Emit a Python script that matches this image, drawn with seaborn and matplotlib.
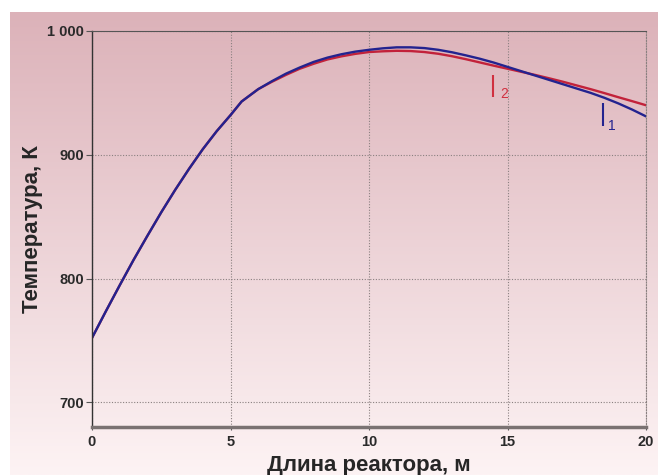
import numpy as np
import pandas as pd
import matplotlib
matplotlib.use("Agg")
import matplotlib.pyplot as plt
import seaborn as sns

# Data: reactor length (m) vs temperature (K)
length = [0, 0.5, 1, 1.5, 2, 2.5, 3, 3.5, 4, 4.5, 5, 5.4, 6, 6.5, 7, 7.5, 8, 8.5,
          9, 9.5, 10, 10.5, 11, 11.5, 12, 12.5, 13, 13.5, 14, 14.5, 15, 15.5, 16,
          16.5, 17, 17.5, 18, 18.5, 19, 19.5, 20]
temp_1 = [752, 773.5, 794.5, 815, 834.5, 853.5, 871.5, 888.5, 904.5, 919, 932, 943,
          953, 959.5, 965.5, 970.5, 975, 978.5, 981.2, 983.3, 984.8, 986, 986.8,
          986.8, 986.2, 984.8, 982.8, 980.3, 977.6, 974.5, 971, 967.5, 964, 960.5,
          957, 953.5, 950, 946, 941.5, 936.5, 931]
temp_2 = [752, 773.5, 794.5, 815, 834.5, 853.5, 871.5, 888.5, 904.5, 919, 932, 943,
          953, 959, 964.5, 969.5, 973.5, 977, 979.5, 981.5, 983, 983.6, 984, 983.8,
          983, 981.6, 979.6, 977.2, 974.6, 972, 969.5, 967, 964.5, 961.8, 959, 956,
          953, 949.8, 946.5, 943.3, 940]

df = pd.DataFrame({"x": length, "t1": temp_1, "t2": temp_2})

sns.set_style("ticks")
plt.rcParams['font.family'] = ['Liberation Sans', 'DejaVu Sans']

fig = plt.figure(figsize=(6.58, 4.75), dpi=100)
fig.patch.set_facecolor("white")

# pink gradient panel behind the chart
bg = fig.add_axes([10 / 658, 0, 648 / 658, 463 / 475], zorder=-10)
top = np.array([220, 178, 185]) / 255
bot = np.array([253, 243, 244]) / 255
g = np.linspace(0, 1, 256)[:, None]
grad = top[None, None, :] * (1 - g[..., None]) + bot[None, None, :] * g[..., None]
grad = np.repeat(grad, 2, axis=1)
bg.imshow(grad, aspect="auto", extent=[0, 1, 0, 1])
bg.axis("off")

ax = fig.add_axes([92 / 658, 1 - 427 / 475, 554 / 658, 396 / 475])
ax.set_facecolor("none")

sns.lineplot(data=df, x="x", y="t2", ax=ax, color="#c2223a", linewidth=1.7)
sns.lineplot(data=df, x="x", y="t1", ax=ax, color="#23238f", linewidth=1.7)

ax.set_xlim(0, 20)
ax.set_ylim(680, 1000)
ax.set_xticks([0, 5, 10, 15, 20])
ax.set_yticks([700, 800, 900, 1000])
ax.set_yticklabels(["700", "800", "900", "1 000"])

ax.grid(True, linestyle=(0, (1, 1.5)), color="#8a8080", linewidth=0.8)
ax.spines["left"].set_color("#333333")
ax.spines["left"].set_linewidth(1.0)
ax.spines["bottom"].set_color("#7a7272")
ax.spines["bottom"].set_linewidth(2.5)
ax.spines["top"].set_color("#555555")
ax.spines["top"].set_linewidth(0.8)
ax.spines["right"].set_color("#8a8080")
ax.spines["right"].set_linestyle((0, (1, 1.5)))
ax.spines["right"].set_linewidth(0.8)

ax.tick_params(axis="y", length=4, width=0.8, color="#555555", pad=2,
               labelsize=10.5, labelcolor="#2a2a2a")
ax.tick_params(axis="x", length=2, width=0.8, color="#555555", pad=4,
               labelsize=10.5, labelcolor="#2a2a2a")
for lbl in ax.get_xticklabels() + ax.get_yticklabels():
    lbl.set_fontweight("bold")

ax.set_xlabel("Длина реактора, м", fontsize=16, fontweight="bold", labelpad=4)
ax.set_ylabel("Температура, К", fontsize=16, fontweight="bold", labelpad=3)

# curve labels
ax.vlines(14.48, 947, 964.5, color="#d0303f", linewidth=1.5)
ax.text(14.75, 949, "2", color="#d0303f", fontsize=10, va="center", ha="left")
ax.vlines(18.45, 923, 942, color="#23238f", linewidth=1.5)
ax.text(18.62, 923.5, "1", color="#23238f", fontsize=10, va="center", ha="left")

fig.savefig("out.png", dpi=100)
